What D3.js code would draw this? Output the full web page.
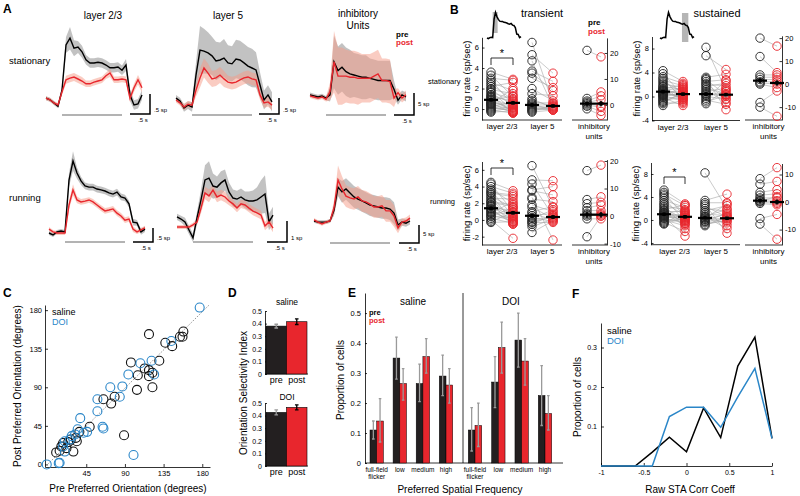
<!DOCTYPE html>
<html><head><meta charset="utf-8">
<script src="https://cdnjs.cloudflare.com/ajax/libs/d3/7.8.5/d3.min.js"></script>
<style>body{margin:0;background:#fff}svg{display:block}text{font-family:"Liberation Sans",Arial,Helvetica,sans-serif}</style>
</head><body><svg id="c" width="800" height="496"></svg>
<script>
// ================= DATA =================
// ---- Panel A: PSTH traces (sp, baseline-relative) ----
const timeSec = [-0.4,-0.3,-0.2,-0.1,0,0.1,0.2,0.3,0.4,0.5,0.6,0.7,0.8,0.9,1.0,1.1,1.2,1.3,1.4,1.5,1.6,1.7,1.8,1.9,2.0];
const aL23StatPre = [0.02,-0.02,-0.1,-0.18,0.22,1.35,1.52,1.27,1.3,1.18,0.98,0.9,0.9,0.92,0.9,0.85,0.78,0.78,0.8,0.72,0.85,0.1,-0.15,-0.12,0.1];
const aL23StatPreSem = [0.05,0.05,0.05,0.05,0.1,0.2,0.28,0.2,0.15,0.15,0.12,0.12,0.12,0.12,0.12,0.12,0.12,0.12,0.12,0.12,0.15,0.15,0.12,0.12,0.12];
const aL23StatPost = [0.02,-0.02,-0.1,-0.15,0.18,0.48,0.52,0.55,0.5,0.45,0.38,0.38,0.42,0.45,0.48,0.58,0.65,0.48,0.48,0.5,0.48,0.02,0.28,0.48,0.28];
const aL23StatPostSem = [0.05,0.05,0.05,0.05,0.08,0.1,0.1,0.1,0.1,0.1,0.08,0.08,0.08,0.08,0.08,0.08,0.1,0.08,0.08,0.08,0.08,0.1,0.1,0.12,0.12];
const aL5StatPre = [0.06,-0.03,-0.25,-0.16,-0.22,0.78,1.56,1.53,1.47,1.38,1.22,1.25,1.31,1.16,1.13,1.28,1.25,1.16,1.06,1.0,0.94,0.47,0,0.16,-0.06];
const aL5StatPreSem = [0.1,0.1,0.12,0.12,0.15,0.4,0.75,0.7,0.65,0.6,0.6,0.55,0.6,0.55,0.55,0.6,0.6,0.6,0.6,0.6,0.55,0.4,0.3,0.3,0.3];
const aL5StatPost = [0,-0.09,-0.22,-0.13,-0.16,0.31,0.69,1.0,0.84,0.66,0.69,0.78,0.66,0.56,0.53,0.56,0.63,0.69,0.72,0.66,0.63,0.16,-0.09,-0.06,-0.16];
const aL5StatPostSem = [0.08,0.08,0.1,0.1,0.1,0.2,0.3,0.3,0.3,0.25,0.25,0.25,0.25,0.2,0.2,0.2,0.2,0.2,0.2,0.2,0.2,0.15,0.15,0.15,0.15];
const aInhStatPre = [0.5,0.25,0,0.25,-0.25,0.5,8,6,6.75,5.75,5.25,5,4.75,4.5,4.5,4.25,4,3.75,3.75,3.75,3.75,1.75,-0.75,0.5,0];
const aInhStatPreSem = [0.5,0.5,0.5,0.5,0.5,1.5,6,5.5,5.5,5.5,5.5,5,5,5,5,4.5,4.5,4.5,4.5,4.5,4.5,2,1,1,1];
const aInhStatPost = [0.25,0,-0.25,0,-0.5,1.25,8,4.75,4.75,4.75,4.5,4.5,4.25,4.25,4.25,4.25,4.75,5.25,3.75,3.75,3.5,-0.25,1,-0.25,0.5];
const aInhStatPostSem = [0.5,0.5,0.5,0.5,0.5,2,7,6.5,6.5,6,6,6,6,5.5,5.5,5.5,5.5,5.5,5,5,5,2,1,1,1];
const aL23RunPre = [0,-0.07,0.04,0.07,0.04,1.89,2.57,2.14,1.86,1.68,1.64,1.64,1.57,1.54,1.5,1.43,1.39,1.46,1.29,1.25,1.04,0.39,0.36,0.04,0.14];
const aL23RunPreSem = [0.07,0.07,0.07,0.07,0.07,0.25,0.35,0.2,0.15,0.12,0.12,0.12,0.12,0.12,0.12,0.12,0.12,0.12,0.12,0.12,0.12,0.12,0.1,0.1,0.1];
const aL23RunPost = [0.14,0.04,0,0,0,1,1.54,1.18,1.11,1.14,1.18,1.11,1.0,0.89,0.79,0.82,0.86,0.71,0.61,0.46,0.5,0.14,0.04,0.11,0.18];
const aL23RunPostSem = [0.07,0.07,0.07,0.07,0.07,0.15,0.2,0.12,0.1,0.1,0.1,0.1,0.1,0.1,0.1,0.1,0.1,0.1,0.1,0.1,0.1,0.1,0.08,0.08,0.08];
const aL5RunPre = [0.48,0.38,0.24,-0.14,-0.52,0.43,1.29,2.24,2.33,1.95,1.9,2.1,2.24,1.67,1.38,1.33,1.43,1.29,1.24,1.24,1.29,1.43,1.57,0.24,0.57];
const aL5RunPreSem = [0.15,0.15,0.2,0.2,0.2,0.3,0.5,0.7,0.8,0.6,0.5,0.55,0.5,0.45,0.4,0.4,0.4,0.4,0.45,0.5,0.6,0.8,0.9,0.4,0.4];
const aL5RunPost = [0,0,0,0,0.1,0.24,0.9,1.62,1.48,1.76,1.43,1.52,1.43,1.24,1.1,0.9,1.1,1.05,0.9,0.76,0.67,0.57,0.05,0.24,-0.05];
const aL5RunPostSem = [0.1,0.1,0.1,0.1,0.1,0.15,0.25,0.3,0.3,0.25,0.25,0.25,0.25,0.2,0.2,0.2,0.2,0.2,0.2,0.2,0.2,0.2,0.2,0.2,0.2];
const aInhRunPre = [0,-0.3,-0.3,-0.3,0,3,9.4,8.1,8.9,7.8,6.7,6.1,5.6,5,4.4,4.2,3.9,3.6,3.6,3.3,2.2,-1.1,-0.3,-0.6,0];
const aInhRunPreSem = [0.5,0.5,0.5,0.5,0.5,1.5,2.5,3,3,3,3,3,3,3,3,3,3,3,3,3,3,1.5,1,1,1];
const aInhRunPost = [0.3,-0.3,-0.8,-0.3,0,3.6,11.4,8.9,6.9,6.4,6.1,6.7,5.6,5.3,4.7,3.9,3.9,4.2,2.8,2.8,1.4,-1.9,-0.3,0,0.8];
const aInhRunPostSem = [0.5,0.5,0.5,0.5,0.5,2,4,3.5,3,3,3,3,3,3,3,3,3,3,3,3,3,1.5,1,1,1];

// ---- Panel B: per-unit firing rates (sp/sec) ----
const tsL23Pre = [3.6,3.3,3.0,2.8,2.6,2.4,2.2,2.0,1.9,1.7,1.6,1.4,1.3,1.2,1.0,0.9,0.8,0.7,0.6,0.5,0.4,0.3,0.2,0.1,0.0,-0.1,-0.2,-0.3,0.5,1.1];
const tsL23Post = [2.9,1.2,2.8,0.4,1.8,0.9,2.6,0.2,1.5,-0.1,1.0,0.6,-0.3,0.8,0.3,-0.2,1.3,0.1,-0.4,0.5,0.0,-0.3,0.7,-0.1,0.2,-0.4,0.1,-0.2,2.0,-0.3];
const tsL5Pre = [6.5,5.3,4.7,3.7,3.5,3.0,2.0,1.5,1.0,0.8,0.6,0.5,0.4,0.3,0.2,0.1,0,-0.1,-0.2,-0.3];
const tsL5Post = [0.5,3.5,0.2,2.7,1.8,2.1,0.8,1.3,0.1,0.3,0.6,-0.1,0.4,0,0.2,-0.1,0.1,0,0.3,-0.1];
const tsInhPre = [21,2.5,1.5,1,0.5,0,-0.5,-1.5];
const tsInhPost = [18.5,5,3.5,2,-0.5,-1,-2.5,-4];
const tsMeans = [0.9,0.6,0.4,0.3,0.5,0.5];
const tsSems = [0.12,0.12,0.15,0.1,0.8,1.0];

const ssL23Pre = [4.3,3.8,3.3,3.0,2.7,2.4,2.1,1.8,1.6,1.4,1.2,1.0,0.8,0.6,0.4,0.2,0,-0.2,-0.4,-0.6,-0.8,-1.0,-1.2,-1.5,0.1,0.3,0.5,0.7,0.9,1.1];
const ssL23Post = [2.5,0.2,2.2,-0.5,1.8,0.8,1.5,-1.0,1.2,0.0,2.0,0.5,-0.3,1.0,0.3,-0.8,0.6,-1.5,0.1,-0.2,0.4,-1.2,0.9,-0.6,1.6,0.2,-0.1,0.7,-0.4,1.3];
const ssL5Pre = [8.2,6.8,3.2,3.0,2.8,2.5,2.2,2.0,1.7,1.4,1.1,0.8,0.5,0.2,0,-0.3,-0.6,-0.9,-1.2,0.4];
const ssL5Post = [1.0,4.5,3.7,-2.2,0.3,2.8,-0.5,1.8,2.2,0.5,-1.0,1.4,0,0.8,-0.4,2.6,-1.3,0.2,1.2,0.3];
const ssInhPre = [20,12,4,3,2,1,0.5,0,-8,-10];
const ssInhPost = [16.5,5,4,3,2,1,0,-1.5,-3,-14];
const ssMeans = [0.8,0.4,0.4,0.3,1.5,0.5];
const ssSems = [0.2,0.15,0.25,0.2,1.0,1.2];

const trL23Pre = [4.5,4.3,4.0,3.7,3.5,3.2,3.0,2.8,2.6,2.4,2.2,2.0,1.8,1.6,1.4,1.2,1.0,0.8,0.6,0.4,0.2,0,-0.2,-0.3,0.5,0.9,1.3,1.7,2.1,3.3];
const trL23Post = [3.5,1.0,3.2,2.0,0.5,2.8,-0.2,1.5,2.5,0.2,1.8,-0.5,0.8,0,1.2,-0.3,0.6,2.2,-0.1,0.3,-0.4,-2.2,0.9,-0.2,1.4,0.1,-0.5,0.4,1.6,3.0];
const trL5Pre = [6.5,4.8,4.3,3.6,3.5,2.7,2.5,1.8,1.5,1.0,0.8,0.5,0.3,0,-0.3,-0.5,-0.8,-1.5,0.2,-0.2];
const trL5Post = [1.5,4.7,0.5,4.0,3.0,-2.4,2.2,1.0,0.2,1.6,0,0.8,-0.2,0.4,-0.3,0.6,0.1,-0.1,1.2,0.3];
const trInhPre = [16.5,6,4.5,3,2,1,0.5,0,-1,-7.5];
const trInhPost = [18.5,7,5,4,2,1,0,0.5,-1,0];
const trMeans = [1.4,0.85,0.5,0.35,0.5,0.5];
const trSems = [0.15,0.15,0.2,0.2,1.0,1.0];

const srL23Pre = [5.2,4.8,4.5,4.2,3.8,3.4,3.0,2.7,2.4,2.1,1.8,1.6,1.4,1.2,1.0,0.8,0.6,0.4,0.2,0,-0.2,-0.4,-0.6,-0.7,0.3,0.5,0.7,0.9,1.1,1.3];
const srL23Post = [2.8,0.5,2.5,1.2,-0.2,2.2,0.8,-1.5,1.8,0,2.6,-0.5,1.5,0.3,-0.8,1.0,-2.8,0.6,-0.3,-1.0,0.2,-2.0,1.3,0.4,-0.6,0.9,0.1,-0.1,0.7,1.6];
const srL5Pre = [8.2,3.4,3.0,2.7,2.4,2.0,1.6,1.3,1.0,0.7,0.4,0.1,-0.2,-0.5,-0.8,-1.0,0.3,0.6,-0.3,0.0];
const srL5Post = [2.0,4.5,3.0,-2.3,0.5,1.5,2.5,-1.0,0.8,1.8,-0.5,0.3,1.2,-0.2,0.0,0.6,2.8,-1.5,0.2,1.0];
const srInhPre = [8.5,6.5,3.5,2.5,1.5,1,0.5,0,-0.5,-6,-8,0.3];
const srInhPost = [12.5,7.5,4.5,3,1.5,0.5,0,-0.5,-1,-4.5,-13.5,2];
const srMeans = [1.0,0.55,0.35,0.3,0.5,0];
const srSems = [0.18,0.15,0.2,0.2,0.8,0.9];

const bTicksTransStat = [0,2,4,6];
const bTicksTransRun = [-2,0,2,4,6];
const bTicksSust = [-4,0,4,8];
const bTicksInhTS = [0,10,20];
const bTicksInhTR = [-10,0,10,20];
const bTicksInhSS = [-10,0,10,20];
const bTicksInhSR = [-10,0,10];

// ---- Panel C: preferred orientation (deg) ----
const cSalPre  = [118,137,145,154,158,157,130,97,113,118,118,122,105,122,104,78,65,74,49,37,33,27,24,18,16,10,14,30,89,34,22];
const cSalPost = [152,142,138,149,155,149,121,119,112,110,103,107,104,90,87,79,76,71,44,38,31,29,26,25,21,14,16,15,34,27,19];
const cDoiPre  = [177,144,108,121,124,94,73,87,84,58,58,38,64,65,35,46,42,32,28,26,20,18,20,100,13,14,-1];
const cDoiPost = [183,144,118,121,105,105,90,91,79,76,62,54,44,42,41,38,37,35,33,29,27,21,15,11,1.5,2,0];
const cTicks = [0,45,90,135,180];

// ---- Panel D: orientation selectivity index ----
const dGroups = ["pre","post"];
const dSalMean = [0.38,0.415];
const dSalErr = [0.015,0.022];
const dDoiMean = [0.425,0.465];
const dDoiErr = [0.02,0.02];
const dTicks = [0,0.1,0.2,0.3,0.4,0.5];

// ---- Panel E: preferred spatial frequency ----
const eCats = ["full-field flicker","low","medium","high"];
const eSalPre = [0.11,0.35,0.265,0.29];
const eSalPreLo = [0.08,0.28,0.205,0.225];
const eSalPreHi = [0.14,0.42,0.33,0.36];
const eSalPost = [0.14,0.265,0.355,0.26];
const eSalPostLo = [0.07,0.21,0.30,0.20];
const eSalPostHi = [0.215,0.315,0.415,0.315];
const eDoiPre = [0.11,0.27,0.41,0.225];
const eDoiPreLo = [0.04,0.185,0.32,0.125];
const eDoiPreHi = [0.185,0.355,0.5,0.325];
const eDoiPost = [0.125,0.385,0.34,0.165];
const eDoiPostLo = [0.055,0.3,0.26,0.11];
const eDoiPostHi = [0.2,0.47,0.415,0.225];
const eTicks = [0,0.1,0.2,0.3,0.4,0.5];

// ---- Panel F: raw STA correlation histogram ----
const fX = [-1,-0.8,-0.6,-0.4,-0.2,0,0.2,0.4,0.6,0.8,1];
const fSaline = [0,0,0,0.035,0.073,0.036,0.147,0.072,0.253,0.326,0.07];
const fDoi = [0,0,0,0,0.125,0.149,0.149,0.098,0.175,0.247,0.07];
const fTicksX = [-1,-0.5,0,0.5,1];
const fTicksY = [0.1,0.2,0.3];

// ================= DRAWING =================
const svg = d3.select("#c");
const RED = "#e8262d", BLUE = "#2a86c8", DARK = "#231f20";
const fmt = d => String(d);

function txt(x, y, s, o = {}) {
  const t = svg.append("text").attr("x", x).attr("y", y).text(s)
    .attr("font-size", o.size || 9).attr("text-anchor", o.anchor || "start")
    .attr("fill", o.fill || "#000");
  if (o.bold) t.attr("font-weight", "bold");
  if (o.rotate) t.attr("transform", `rotate(-90,${x},${y})`);
  return t;
}
function styleAxis(g, size) {
  g.selectAll("path").attr("stroke", "#000").attr("stroke-width", 0.8);
  g.selectAll("line").attr("stroke", "#000").attr("stroke-width", 0.8);
  g.selectAll("text").attr("font-size", size).attr("font-family", '"Liberation Sans",Arial,sans-serif').attr("fill", "#000");
}

// ---------- Panel A ----------
const aPanels = [
  {pre:aL23StatPre, preSem:aL23StatPreSem, post:aL23StatPost, postSem:aL23StatPostSem, x0:46, base:99, ppu:40, stimY:115, sbX:150, sbY:114, sbU:0.5, sbL:".5 sp", mid:false},
  {pre:aL5StatPre, preSem:aL5StatPreSem, post:aL5StatPost, postSem:aL5StatPostSem, x0:176, base:100, ppu:32, stimY:115, sbX:279, sbY:114, sbU:0.5, sbL:".5 sp", mid:false},
  {pre:aInhStatPre, preSem:aInhStatPreSem, post:aInhStatPost, postSem:aInhStatPostSem, x0:310, base:97, ppu:4.4, stimY:115, sbX:414, sbY:115, sbU:5, sbL:"5 sp", mid:true},
  {pre:aL23RunPre, preSem:aL23RunPreSem, post:aL23RunPost, postSem:aL23RunPostSem, x0:49, base:233, ppu:28, stimY:242, sbX:153, sbY:242, sbU:0.5, sbL:".5 sp", mid:false},
  {pre:aL5RunPre, preSem:aL5RunPreSem, post:aL5RunPost, postSem:aL5RunPostSem, x0:177, base:227, ppu:21, stimY:242, sbX:287, sbY:242, sbU:1, sbL:"1 sp", mid:false},
  {pre:aInhRunPre, preSem:aInhRunPreSem, post:aInhRunPost, postSem:aInhRunPostSem, x0:314, base:221, ppu:3.6, stimY:243, sbX:419, sbY:243, sbU:5, sbL:"5 sp", mid:true},
];
aPanels.forEach(p => {
  const x = d3.scaleLinear().domain([-0.4, 2.0]).range([p.x0, p.x0 + 96]);
  const y = d3.scaleLinear().domain([0, 1]).range([p.base, p.base - p.ppu]);
  const area = d3.area().x((d, i) => x(timeSec[i])).y0(d => y(d[0] - d[1])).y1(d => y(d[0] + d[1]));
  const line = d3.line().x((d, i) => x(timeSec[i])).y(d => y(d));
  svg.append("path").attr("d", area(d3.zip(p.pre, p.preSem))).attr("fill", "#8f8f8f").attr("opacity", 0.55);
  svg.append("path").attr("d", area(d3.zip(p.post, p.postSem))).attr("fill", "#f59a85").attr("opacity", 0.5);
  svg.append("path").attr("d", line(p.pre)).attr("fill", "none").attr("stroke", "#000").attr("stroke-width", 1.4);
  svg.append("path").attr("d", line(p.post)).attr("fill", "none").attr("stroke", RED).attr("stroke-width", 1.4);
  // stimulus bar
  svg.append("line").attr("x1", x(0)).attr("x2", x(1.5)).attr("y1", p.stimY).attr("y2", p.stimY)
    .attr("stroke", "#9a9a9a").attr("stroke-width", 1.5);
  // scale bar
  const hLen = x(0.5) - x(0);
  const vLen = y(0) - y(p.sbU);
  svg.append("path").attr("d", `M${p.sbX - hLen},${p.sbY}H${p.sbX}V${p.sbY - vLen}`)
    .attr("fill", "none").attr("stroke", "#000").attr("stroke-width", 1.5);
  txt(p.sbX + 4, p.mid ? p.sbY - vLen / 2 + 2 : p.sbY - 2, p.sbL, {size: 6});
  txt(p.sbX - 7, p.sbY + 8, ".5 s", {size: 6, anchor: "middle"});
});
txt(3, 13, "A", {size: 12, bold: true});
txt(103, 19, "layer 2/3", {size: 10, anchor: "middle"});
txt(228, 19, "layer 5", {size: 10, anchor: "middle"});
txt(358, 17, "inhibitory", {size: 10, anchor: "middle"});
txt(358, 29, "Units", {size: 10, anchor: "middle"});
txt(9, 64, "stationary", {size: 9.5});
txt(9, 201, "running", {size: 9.5});
txt(396, 37, "pre", {size: 8, bold: true});
txt(396, 45, "post", {size: 8, bold: true, fill: RED});

// ---------- Panel B ----------
function bMainPanel(o) {
  const y = d3.scaleLinear().domain(o.dom).range(o.rng);
  const g = svg.append("g").attr("transform", `translate(${o.axisX},0)`).call(
    d3.axisLeft(y).tickValues(o.ticks).tickSize(-2.5).tickSizeOuter(0).tickPadding(3).tickFormat(fmt));
  styleAxis(g, 7.5);
  svg.append("line").attr("x1", o.axisX).attr("x2", o.xEnd).attr("y1", o.rng[0]).attr("y2", o.rng[0]).attr("stroke", "#000").attr("stroke-width", 0.8);
  o.groups.forEach((gr, gi) => {
    drawPairs(y, gr.pre, gr.post, gr.xPre, gr.xPost, o.means[gi * 2], o.means[gi * 2 + 1], o.sems[gi * 2], o.sems[gi * 2 + 1]);
    txt((gr.xPre + gr.xPost) / 2, o.rng[0] + 9, gr.label, {size: 8, anchor: "middle"});
  });
  if (o.bracket) {
    const b = o.bracket;
    svg.append("path").attr("d", `M${b.x1},${b.y + 7}V${b.y}H${b.x2}V${b.y + 7}`).attr("fill", "none").attr("stroke", "#000").attr("stroke-width", 0.8);
    txt((b.x1 + b.x2) / 2, b.y - 1, "*", {size: 11, anchor: "middle"});
  }
  txt(o.axisX - 12, (o.rng[0] + o.rng[1]) / 2, "firing rate (sp/sec)", {size: 9.5, anchor: "middle", rotate: true});
}
function bInhPanel(o) {
  const y = d3.scaleLinear().domain(o.dom).range(o.rng);
  const g = svg.append("g").attr("transform", `translate(${o.axisX},0)`).call(
    d3.axisRight(y).tickValues(o.ticks).tickSize(-2.5).tickSizeOuter(0).tickPadding(3).tickFormat(fmt));
  styleAxis(g, 7.5);
  svg.append("line").attr("x1", o.xStart).attr("x2", o.axisX).attr("y1", o.rng[0]).attr("y2", o.rng[0]).attr("stroke", "#000").attr("stroke-width", 0.8);
  drawPairs(y, o.pre, o.post, o.xPre, o.xPost, o.means[4], o.means[5], o.sems[4], o.sems[5]);
  const cx = (o.xPre + o.xPost) / 2;
  txt(cx, o.rng[0] + 9, "inhibitory", {size: 8, anchor: "middle"});
  txt(cx, o.rng[0] + 19, "units", {size: 8, anchor: "middle"});
}
function drawPairs(y, pre, post, xPre, xPost, mPre, mPost, sPre, sPost) {
  pre.forEach((v, i) => svg.append("line").attr("x1", xPre).attr("x2", xPost).attr("y1", y(v)).attr("y2", y(post[i]))
    .attr("stroke", "#a6a6a6").attr("stroke-width", 0.6));
  pre.forEach(v => svg.append("circle").attr("cx", xPre).attr("cy", y(v)).attr("r", 4.2).attr("fill", "none").attr("stroke", "#222").attr("stroke-width", 0.9));
  post.forEach(v => svg.append("circle").attr("cx", xPost).attr("cy", y(v)).attr("r", 4.2).attr("fill", "none").attr("stroke", RED).attr("stroke-width", 0.9));
  [[xPre, mPre, sPre], [xPost, mPost, sPost]].forEach(([xx, m, s]) => {
    svg.append("line").attr("x1", xx - 7).attr("x2", xx + 7).attr("y1", y(m)).attr("y2", y(m)).attr("stroke", "#000").attr("stroke-width", 2.2);
    svg.append("line").attr("x1", xx).attr("x2", xx).attr("y1", y(m - s)).attr("y2", y(m + s)).attr("stroke", "#000").attr("stroke-width", 1.6);
    svg.append("rect").attr("x", xx - 1.8).attr("y", y(m) - 1.8).attr("width", 3.6).attr("height", 3.6).attr("fill", "#000");
  });
}
// transient stationary
bMainPanel({axisX: 482, dom: [-1.07, 7], rng: [120, 37.3], ticks: bTicksTransStat, xEnd: 562, means: tsMeans, sems: tsSems,
  groups: [{pre: tsL23Pre, post: tsL23Post, xPre: 491, xPost: 513, label: "layer 2/3"}, {pre: tsL5Pre, post: tsL5Post, xPre: 532, xPost: 553, label: "layer 5"}],
  bracket: {x1: 491, x2: 513, y: 58}});
bInhPanel({axisX: 607, xStart: 572, dom: [-5.8, 25.8], rng: [120, 37.9], ticks: bTicksInhTS, pre: tsInhPre, post: tsInhPost, xPre: 587, xPost: 601, means: tsMeans, sems: tsSems});
// sustained stationary
bMainPanel({axisX: 652, dom: [-4, 10], rng: [120.5, 36.5], ticks: bTicksSust, xEnd: 740, means: ssMeans, sems: ssSems,
  groups: [{pre: ssL23Pre, post: ssL23Post, xPre: 663, xPost: 683, label: "layer 2/3"}, {pre: ssL5Pre, post: ssL5Post, xPre: 706, xPost: 726, label: "layer 5"}]});
bInhPanel({axisX: 782, xStart: 745, dom: [-15.6, 21], rng: [120, 35.8], ticks: bTicksInhSS, pre: ssInhPre, post: ssInhPost, xPre: 760, xPost: 777, means: ssMeans, sems: ssSems});
// transient running
bMainPanel({axisX: 482, dom: [-3, 7], rng: [245, 161.5], ticks: bTicksTransRun, xEnd: 562, means: trMeans, sems: trSems,
  groups: [{pre: trL23Pre, post: trL23Post, xPre: 491, xPost: 513, label: "layer 2/3"}, {pre: trL5Pre, post: trL5Post, xPre: 532, xPost: 553, label: "layer 5"}],
  bracket: {x1: 491, x2: 513, y: 168}});
bInhPanel({axisX: 607, xStart: 572, dom: [-10.5, 20.5], rng: [245, 159.6], ticks: bTicksInhTR, pre: trInhPre, post: trInhPost, xPre: 587, xPost: 601, means: trMeans, sems: trSems});
// sustained running
bMainPanel({axisX: 651, dom: [-4.3, 10], rng: [244.7, 162.5], ticks: bTicksSust, xEnd: 740, means: srMeans, sems: srSems,
  groups: [{pre: srL23Pre, post: srL23Post, xPre: 664, xPost: 685, label: "layer 2/3"}, {pre: srL5Pre, post: srL5Post, xPre: 705, xPost: 727, label: "layer 5"}],
  bracket: {x1: 664, x2: 685, y: 177}});
bInhPanel({axisX: 782, xStart: 745, dom: [-15.6, 14], rng: [245, 163.5], ticks: bTicksInhSR, pre: srInhPre, post: srInhPost, xPre: 760, xPost: 777, means: srMeans, sems: srSems});

// B insets (reuse layer 2/3 running pre trace shape)
[{x0: 487, r0: 0, r1: 0.35, ry0: 12, ry1: 33}, {x0: 660, r0: 1.15, r1: 1.6, ry0: 13, ry1: 42}].forEach(ins => {
  const x = d3.scaleLinear().domain([-0.4, 2.0]).range([ins.x0, ins.x0 + 34]);
  const y = d3.scaleLinear().domain([0, 1]).range([38, 28]);
  svg.append("rect").attr("x", x(ins.r0)).attr("y", ins.ry0).attr("width", x(ins.r1) - x(ins.r0)).attr("height", ins.ry1 - ins.ry0).attr("fill", "#b5b5b5");
  svg.append("path").attr("d", d3.line().x((d, i) => x(timeSec[i])).y(d => y(d))(aL23RunPre)).attr("fill", "none").attr("stroke", "#000").attr("stroke-width", 1.5);
});
txt(450, 14, "B", {size: 12, bold: true});
txt(542, 17, "transient", {size: 11, anchor: "middle"});
txt(717, 17, "sustained", {size: 11, anchor: "middle"});
txt(588, 25, "pre", {size: 8, bold: true});
txt(588, 34, "post", {size: 8, bold: true, fill: RED});
txt(428, 84, "stationary", {size: 7.5});
txt(430, 204, "running", {size: 7.5});

// ---------- Panel C ----------
{
  const x = d3.scaleLinear().domain([-3, 189]).range([45, 210]);
  const y = d3.scaleLinear().domain([-3, 186]).range([467, 305]);
  const gx = svg.append("g").attr("transform", "translate(0,467)").call(d3.axisBottom(x).tickValues(cTicks.slice(1)).tickSize(-3).tickSizeOuter(0).tickPadding(4).tickFormat(fmt));
  styleAxis(gx, 7.5);
  const gy = svg.append("g").attr("transform", "translate(45,0)").call(d3.axisLeft(y).tickValues(cTicks).tickSize(-3).tickSizeOuter(0).tickPadding(3).tickFormat(fmt));
  styleAxis(gy, 7.5);
  svg.append("line").attr("x1", x(0)).attr("y1", y(0)).attr("x2", x(188)).attr("y2", y(186)).attr("stroke", "#888").attr("stroke-width", 0.9).attr("stroke-dasharray", "1.5,1.5");
  cSalPre.forEach((v, i) => svg.append("circle").attr("cx", x(v)).attr("cy", y(cSalPost[i])).attr("r", 4.5).attr("fill", "none").attr("stroke", "#111").attr("stroke-width", 1.1));
  cDoiPre.forEach((v, i) => svg.append("circle").attr("cx", x(v)).attr("cy", y(cDoiPost[i])).attr("r", 4.5).attr("fill", "none").attr("stroke", BLUE).attr("stroke-width", 1.1));
  txt(52, 315, "saline", {size: 9});
  txt(52, 325, "DOI", {size: 9, fill: BLUE});
  txt(128, 492, "Pre Preferred Orientation (degrees)", {size: 10, anchor: "middle"});
  txt(21, 386, "Post Preferred Orientation (degrees)", {size: 10, anchor: "middle", rotate: true});
  txt(3, 297, "C", {size: 12, bold: true});
}

// ---------- Panel D ----------
function dPanel(top, bottom, means, errs, title, titleY) {
  const x = d3.scaleBand().domain(dGroups).range([266, 307]).padding(0);
  const y = d3.scaleLinear().domain([0, 0.5]).range([bottom, top]);
  const gy = svg.append("g").attr("transform", "translate(265,0)").call(d3.axisLeft(y).tickValues(dTicks).tickSize(-2).tickSizeOuter(0).tickPadding(3).tickFormat(fmt));
  styleAxis(gy, 7);
  svg.append("line").attr("x1", 265).attr("x2", 308).attr("y1", bottom).attr("y2", bottom).attr("stroke", "#000").attr("stroke-width", 0.8);
  dGroups.forEach((g, i) => {
    svg.append("rect").attr("x", x(g)).attr("y", y(means[i])).attr("width", x.bandwidth()).attr("height", bottom - y(means[i]))
      .attr("fill", i === 0 ? DARK : RED).attr("stroke", "#000").attr("stroke-width", 0.6);
    const cx = x(g) + x.bandwidth() / 2, col = i === 0 ? "#9a9a9a" : "#000";
    svg.append("path").attr("d", `M${cx},${y(means[i] - errs[i])}V${y(means[i] + errs[i])}M${cx - 1.8},${y(means[i] - errs[i])}H${cx + 1.8}M${cx - 1.8},${y(means[i] + errs[i])}H${cx + 1.8}`)
      .attr("stroke", col).attr("stroke-width", 1.3).attr("fill", "none");
    txt(cx, bottom + 9, g, {size: 9, anchor: "middle"});
  });
  txt(287, titleY, title, {size: 8.5, anchor: "middle"});
}
dPanel(311, 374, dSalMean, dSalErr, "saline", 305);
dPanel(403, 466, dDoiMean, dDoiErr, "DOI", 400);
txt(247, 393, "Orientation Selectivity Index", {size: 10, anchor: "middle", rotate: true});
txt(228, 297, "D", {size: 12, bold: true});

// ---------- Panel E ----------
{
  const y = d3.scaleLinear().domain([0, 0.567]).range([463, 293]);
  const gy = svg.append("g").attr("transform", "translate(365,0)").call(d3.axisLeft(y).tickValues(eTicks).tickSize(-2).tickSizeOuter(0).tickPadding(4).tickFormat(fmt));
  styleAxis(gy, 7.5);
  svg.append("line").attr("x1", 365).attr("x2", 563).attr("y1", 463).attr("y2", 463).attr("stroke", "#000").attr("stroke-width", 0.8);
  svg.append("line").attr("x1", 463).attr("x2", 463).attr("y1", 293).attr("y2", 463).attr("stroke", "#000").attr("stroke-width", 0.8);
  const groups = [
    {r: [376.7, 446], pre: eSalPre, preLo: eSalPreLo, preHi: eSalPreHi, post: eSalPost, postLo: eSalPostLo, postHi: eSalPostHi},
    {r: [475, 545], pre: eDoiPre, preLo: eDoiPreLo, preHi: eDoiPreHi, post: eDoiPost, postLo: eDoiPostLo, postHi: eDoiPostHi}];
  const bw = 6.7;
  groups.forEach(gr => {
    const x = d3.scalePoint().domain(eCats).range(gr.r);
    eCats.forEach((c, i) => {
      const cx = x(c);
      [[cx - bw, gr.pre[i], gr.preLo[i], gr.preHi[i], DARK], [cx, gr.post[i], gr.postLo[i], gr.postHi[i], RED]].forEach(([bx, v, lo, hi, col]) => {
        svg.append("rect").attr("x", bx).attr("y", y(v)).attr("width", bw).attr("height", 463 - y(v)).attr("fill", col).attr("stroke", "#000").attr("stroke-width", 0.5);
        const ex = bx + bw / 2;
        svg.append("path").attr("d", `M${ex},${y(lo)}V${y(hi)}M${ex - 1.3},${y(lo)}H${ex + 1.3}M${ex - 1.3},${y(hi)}H${ex + 1.3}`)
          .attr("stroke", "#9a9a9a").attr("stroke-width", 1.3).attr("fill", "none");
      });
      if (i === 0) {
        txt(cx, 472, "full-field", {size: 6.5, anchor: "middle"});
        txt(cx, 479, "flicker", {size: 6.5, anchor: "middle"});
      } else {
        txt(cx, 472, c, {size: 6.5, anchor: "middle"});
      }
    });
  });
  txt(413, 305, "saline", {size: 10, anchor: "middle"});
  txt(511, 305, "DOI", {size: 10, anchor: "middle"});
  txt(369, 315, "pre", {size: 7.5, bold: true});
  txt(369, 323, "post", {size: 7.5, bold: true, fill: RED});
  txt(344, 380, "Proportion of cells", {size: 10, anchor: "middle", rotate: true});
  txt(460, 493, "Preferred Spatial Frequency", {size: 10, anchor: "middle"});
  txt(348, 297, "E", {size: 12, bold: true});
}

// ---------- Panel F ----------
{
  const x = d3.scaleLinear().domain([-1, 1]).range([601, 772]);
  const y = d3.scaleLinear().domain([0, 0.362]).range([466, 323]);
  const gx = svg.append("g").attr("transform", "translate(0,466)").call(d3.axisBottom(x).tickValues(fTicksX).tickSize(-3).tickSizeOuter(0).tickPadding(4).tickFormat(fmt));
  styleAxis(gx, 7);
  const gy = svg.append("g").attr("transform", "translate(601,0)").call(d3.axisLeft(y).tickValues(fTicksY).tickSize(-3).tickSizeOuter(0).tickPadding(4).tickFormat(fmt));
  styleAxis(gy, 7);
  const line = d3.line().x((d, i) => x(fX[i])).y(d => y(d));
  svg.append("path").attr("d", line(fSaline)).attr("fill", "none").attr("stroke", "#000").attr("stroke-width", 1.5);
  svg.append("path").attr("d", line(fDoi)).attr("fill", "none").attr("stroke", BLUE).attr("stroke-width", 1.5);
  txt(607, 334, "saline", {size: 9.5});
  txt(607, 344, "DOI", {size: 9.5, fill: BLUE});
  txt(581, 397, "Proportion of cells", {size: 10, anchor: "middle", rotate: true});
  txt(690, 493, "Raw STA Corr Coeff", {size: 10, anchor: "middle"});
  txt(572, 298, "F", {size: 12, bold: true});
}
</script></body></html>
